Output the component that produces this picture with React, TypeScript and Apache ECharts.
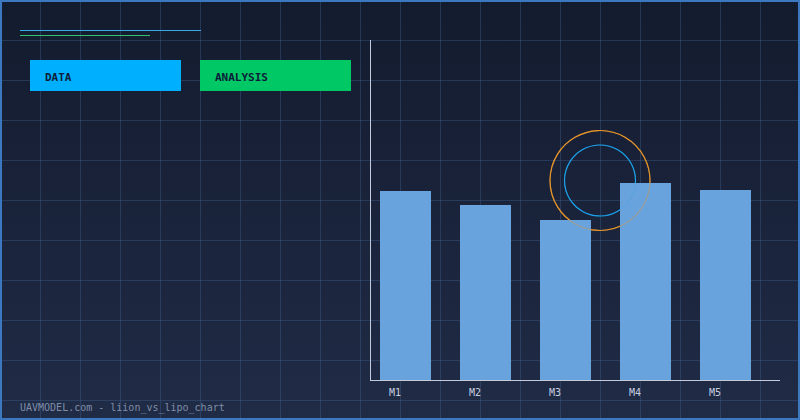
import React, { useEffect, useRef } from "react";
import * as echarts from "echarts";

const categories = ["M1", "M2", "M3", "M4", "M5"];
const values = [189, 175, 160, 197, 190];
const yMax = 340;
const buttonLabels = ["DATA", "ANALYSIS"];
const footerText = "UAVMODEL.com - liion_vs_lipo_chart";

const MONO = '"DejaVu Sans Mono", "Liberation Mono", monospace';

export default function App() {
  const ref = useRef<HTMLDivElement>(null);

  useEffect(() => {
    document.body.style.margin = "0";
    if (!ref.current) return;
    const chart = echarts.init(ref.current, null, { renderer: "svg" });

    const gridLines: any[] = [];
    for (let x = 40; x < 800; x += 40) {
      gridLines.push({
        type: "line",
        z: 0,
        silent: true,
        shape: { x1: x + 0.5, y1: 0, x2: x + 0.5, y2: 420 },
        style: { stroke: "rgba(62,92,138,0.42)", lineWidth: 1 },
      });
    }
    for (let y = 40; y < 420; y += 40) {
      gridLines.push({
        type: "line",
        z: 0,
        silent: true,
        shape: { x1: 0, y1: y + 0.5, x2: 800, y2: y + 0.5 },
        style: { stroke: "rgba(62,92,138,0.42)", lineWidth: 1 },
      });
    }

    const buttonColors = ["#00b0ff", "#00c864"];
    const buttons: any[] = [];
    buttonLabels.forEach((label, i) => {
      const bx = 30 + i * 170;
      buttons.push({
        type: "rect",
        z: 1,
        shape: { x: bx, y: 60, width: 151, height: 31 },
        style: { fill: buttonColors[i] },
      });
      buttons.push({
        type: "text",
        z: 2,
        x: bx + 15,
        y: 77,
        style: {
          text: label,
          fill: "#0b1d3a",
          font: `bold 11px ${MONO}`,
          verticalAlign: "middle",
          align: "left",
        },
      });
    });

    const ring = (r: number, color: string, z: number, opacity: number) => ({
      type: "circle",
      z,
      silent: true,
      shape: { cx: 600, cy: 180.5, r },
      style: { fill: "none", stroke: color, lineWidth: 1.2, opacity },
    });

    chart.setOption({
      animation: false,
      backgroundColor: {
        type: "linear",
        x: 0,
        y: 0,
        x2: 0,
        y2: 1,
        colorStops: [
          { offset: 0, color: "#131b2e" },
          { offset: 1, color: "#202b46" },
        ],
      },
      grid: { left: 365.5, top: 40, width: 400, height: 340 },
      xAxis: {
        type: "category",
        data: categories,
        axisLine: { show: false },
        axisTick: { show: false },
        splitLine: { show: false },
        axisLabel: {
          color: "#c8d0e0",
          fontFamily: MONO,
          fontSize: 10,
          margin: 7,
          align: "center",
          padding: [0, 21, 0, 0],
        },
      },
      yAxis: {
        type: "value",
        min: 0,
        max: yMax,
        show: false,
        splitLine: { show: false },
      },
      series: [
        {
          type: "bar",
          data: values,
          barWidth: 51,
          z: 5,
          itemStyle: { color: "#68a3dd" },
        },
      ],
      graphic: [
        ...gridLines,
        {
          type: "line",
          z: 1,
          shape: { x1: 20, y1: 30.5, x2: 201, y2: 30.5 },
          style: { stroke: "#38a8e8", lineWidth: 1.2 },
        },
        {
          type: "line",
          z: 1,
          shape: { x1: 20, y1: 35.5, x2: 150, y2: 35.5 },
          style: { stroke: "#34c070", lineWidth: 1.2 },
        },
        ...buttons,
        ring(50, "#e8962a", 1, 1),
        ring(35.5, "#1ea4ec", 1, 1),
        ring(50, "#e8962a", 10, 0.4),
        ring(35.5, "#1ea4ec", 10, 0.15),
        {
          type: "line",
          z: 20,
          shape: { x1: 370.5, y1: 40, x2: 370.5, y2: 380.5 },
          style: { stroke: "#c3cbdb", lineWidth: 1 },
        },
        {
          type: "line",
          z: 20,
          shape: { x1: 370, y1: 380.5, x2: 780, y2: 380.5 },
          style: { stroke: "#c3cbdb", lineWidth: 1 },
        },
        {
          type: "text",
          z: 2,
          x: 20,
          y: 407,
          style: {
            text: footerText,
            fill: "#7f8ea8",
            font: `10px ${MONO}`,
            verticalAlign: "middle",
            align: "left",
          },
        },
        {
          type: "rect",
          z: 30,
          silent: true,
          shape: { x: 1, y: 1, width: 798, height: 418 },
          style: { fill: "none", stroke: "#3b78c0", lineWidth: 2 },
        },
      ],
    });

    return () => chart.dispose();
  }, []);

  return <div ref={ref} style={{ width: 800, height: 420 }} />;
}
